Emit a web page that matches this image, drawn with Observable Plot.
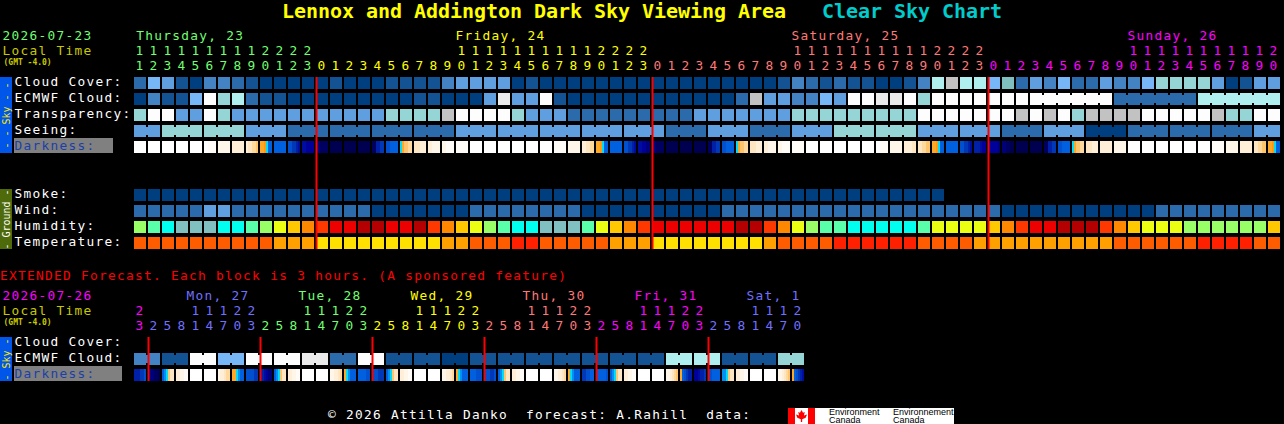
<!DOCTYPE html>
<html><head><meta charset="utf-8">
<script src="https://cdn.jsdelivr.net/npm/d3@7"></script>
<script src="https://cdn.jsdelivr.net/npm/@observablehq/plot@0.6"></script>
<style>
html,body{margin:0;padding:0;background:#000;width:1284px;height:424px;overflow:hidden}
body{position:relative;font-family:"DejaVu Sans Mono",monospace}
.abs{position:absolute;white-space:pre;line-height:1}
.body15{font-size:12.8px;letter-spacing:1.3px}
#plotTop,#plotExt{position:absolute;left:0}
#plotTop{top:0}#plotExt{top:285px}
g[font-size="8"],g[font-size="10"]{letter-spacing:0}
</style></head><body>
<div class="abs" id="title" style="left:282px;top:1px;font-size:20px;font-weight:bold;letter-spacing:-0.04px;color:#ffff00">Lennox and Addington Dark Sky Viewing Area   <span style="color:#00cccc">Clear Sky Chart</span></div>
<div id="plotTop"></div>
<div class="abs body15" style="left:0;top:270px;color:#ff0000">EXTENDED Forecast. Each block is 3 hours. (A sponsored feature)</div>
<div id="plotExt"></div>
<div class="abs body15" style="left:328px;top:409px;color:#fff">© 2026 Attilla Danko  forecast: A.Rahill  data:</div>
<div class="abs" style="left:788px;top:408px;width:27px;height:16px;background:#fff;overflow:hidden">
  <div class="abs" style="left:0;top:0;width:7px;height:16px;background:#f00"></div>
  <div class="abs" style="left:20px;top:0;width:7px;height:16px;background:#f00"></div>
  <div class="abs" style="left:8px;top:2px;width:11px;height:12px;background:#f00;clip-path:polygon(50% 0,64% 22%,80% 16%,72% 46%,100% 38%,88% 64%,56% 78%,56% 100%,44% 100%,44% 78%,12% 64%,0 38%,28% 46%,20% 16%,36% 22%)"></div>
</div>
<div class="abs" style="left:815px;top:408px;width:139px;height:16px;background:#fff;color:#000;font-family:'Liberation Sans',sans-serif;font-size:9px;line-height:8px">
  <div class="abs" style="left:14px;top:0;line-height:8px">Environment
Canada</div>
  <div class="abs" style="left:78px;top:0;line-height:8px">Environnement
Canada</div>
</div>
<script>
// ---------- colour scales ----------
const skyPalette = ["#003f7f","#135393","#2b6bab","#4383c3","#5f9fdf","#77b7f7","#95d5d5","#afefef","#c2c2c2","#eaeaea","#fdfdfd","#7fbfbf"];
const humidityPalette = {A:"#99ff66",B:"#5affaa",C:"#00ffee",D:"#80c0c0",E:"#ebff12",F:"#ffc800",G:"#ff8800",H:"#ff3800",I:"#ec0000",J:"#b40000"};
const temperaturePalette = {R:"#ff2000",O:"#ff5c00",M:"#ffa000",Y:"#ffe000"};
const darknessPalette = {a:"#ffffff",b:"#fffbf6",c:"#fff6ea",d:"#ffefd9",e:"#ffe6c2",f:"#ffd89c",g:"#ffc46c",h:"#ffa827",i:"#ff9a10",j:"#00dcff",k:"#0090f0",l:"#0060e0",m:"#0050d0",n:"#0038b8",o:"#0020a8",p:"#000ca0",q:"#00009a",r:"#00007a",s:"#000060",t:"#000050"};

// ---------- hourly forecast ----------
const cloud = [2,5,4,1,0,3,3,2,1,0, 0,0,0,0,1,0,0,0,1,1, 1,1,3,4,4,4,4,0,1,0, 0,0,0,0,0,0,0,0,0,0, 0,0,0,0,0,0,1,3,2,1, 2,1,1,0,0,1,3,7,8,7, 7,5,11,2,4,3,5,2,2,4, 3,3,5,6,6,6,6,4,0,1, 4,4];
const ecmwf = [0,3,1,1,5,10,6,7,2,1, 1,0,0,0,0,0,0,0,0,0, 1,1,0,0,0,4,9,4,4,10, 1,0,0,0,0,0,0,0,0,0, 0,0,0,2,8,4,4,3,3,5, 4,10,10,9,9,10,6,10,10,10, 10,10,10,10,10,10,10,10,10,10, 2,2,2,2,2,2,7,7,7,7, 7,7];
const transparency = [6,10,10,4,4,10,6,4,4,4, 4,4,4,4,4,4,4,4,6,6, 6,6,8,10,10,10,10,6,4,4, 4,2,2,2,2,2,2,2,2,2, 4,4,4,4,4,4,4,6,6,6, 6,6,6,6,6,6,10,10,10,10, 10,10,10,8,10,8,10,6,8,8, 8,8,10,10,10,10,10,8,6,6, 10,10];
const seeing = [4,4,6,6,6,6,6,6,4,4, 4,2,2,2,2,2,2,2,2,2, 2,2,2,4,4,4,4,4,4,4, 4,4,4,4,4,4,4,4,2,2, 2,4,4,4,2,2,2,4,4,4, 6,6,6,6,6,6,4,4,4,4, 4,4,2,2,2,4,4,4,0,0, 0,2,2,2,2,2,2,2,2,2, 4,4];
const darkness = ["a","a","a","a","a","aabbbb","c","d","deeffg","hhijll","l","mmnnop","ppqqqq","rrssss","t","t","t","ssoonn","mmllll","jhggff","eeeddd","ddcccc","ccbbbb","b","a","a","a","a","a","a","b","c","ddeeff","hhijll","l","mmnnop","ppqqrr","rrssss","t","t","t","ssoonn","mmllll","jhggff","eeeddd","ddcccc","ccbbbb","b","a","a","a","a","a","aabbbb","c","ddddee","eeffgg","hhijll","l","mmnnop","ooopqq","qqqqqr","rrsstt","t","t","ssoonn","mmllll","jhggff","eeeddd","d","c","a","a","a","a","a","a","b","c","d","eeffgg","hhijll"];
const smoke = [0,0,0,0,0,0,0,0,0,0, 0,0,0,0,0,0,0,0,0,0, 0,0,0,0,0,0,0,0,0,0, 0,0,0,0,0,0,0,0,0,0, 0,0,0,0,0,0,0,0,0,0, 0,0,0,0,0,0,0,0];
const wind = [2,2,2,2,2,4,4,2,2,2, 2,2,2,2,2,2,2,0,0,0, 0,0,0,0,2,2,2,2,2,2, 2,2,0,0,0,0,0,0,0,0, 0,0,2,2,2,2,2,2,2,2, 2,2,2,2,2,2,2,2,2,2, 2,2,0,0,0,0,0,0,0,0, 0,0,0,2,2,2,2,2,2,2, 2,2];
const humidity = [..."ABCDDDCCBA"+"EFGHIIJJII"+"JHGFEABCCD"+"DDBEFGHIII"+"IIIJJHGEAB"+"BCCCCCBEEE"+"EFGHIIJJJH"+"GFEEEAAAAA"+"AF"];
const temperature = [..."OOOOOOOOOO"+"MMMYYYYYYY"+"YYMMOOORRO"+"OOOOMMMYYY"+"YYYYYMOOOO"+"RRRRRROOOO"+"MMMMMMMMMM"+"OOOOOORRRR"+"OO"];
const hours = [11,12,13,14,15,16,17,18,19,20,21,22,23, 0,1,2,3,4,5,6,7,8,9,10,11,12,13,14,15,16,17,18,19,20,21,22,23, 0,1,2,3,4,5,6,7,8,9,10,11,12,13,14,15,16,17,18,19,20,21,22,23, 0,1,2,3,4,5,6,7,8,9,10,11,12,13,14,15,16,17,18,19,20];
const seeingGroups = [0,2,5,8,11,14,17,20,23,26,29,32,35,38,41,44,47,50,53,56,59,62,65,68,71,74,77,80];
const ecmwfGroups = [64,70,76];
const topMidnights = [13,37,61];
const topDays = [{label:"Thursday, 23",col:0.2},{label:"Friday, 24",col:23},{label:"Saturday, 25",col:47},{label:"Sunday, 26",col:71}];
const topDayEnds = [13,37,61,82];
const topDayColors = ["#70ff70","#ffff00","#ff7878","#ff00ff"];
const rows = ["Cloud Cover:","ECMWF Cloud:","Transparency:","Seeing:","Darkness:","gap1","gap2","Smoke:","Wind:","Humidity:","Temperature:"];

// ---------- extended forecast ----------
const extEcmwf = [3,3,1,1,10,10,5,5,10,10,10,10,9,9,2,2,10,10,1,1,1,1,0,0,1,1,1,1,1,1,1,1,1,1,1,1,1,1,7,7,7,7,1,1,1,1,6,6];
const extDarkness = ["ooonnm","qrrsst","lkjgee","ddccbb","a","a","cddeff","hhjkll","mmmmnn","oopqrr","lkjgee","ddccbb","a","a","ccddef","hjklll","llllmm","mmmnnn","lkjgee","ddccbb","a","a","ccddef","hjklll","lllmmm","mmmnnm","lkjgee","ddccbb","a","a","ccddef","hjklll","nnmmll","lllllm","lkjgee","ddccbb","a","a","ccdefg","hlmnoo","qqpoon","mmllll","kkjgee","ddccbb","a","a","ccdefg","hlmnop"];
const extHours = [23,2,5,8,11,14,17,20,23,2,5,8,11,14,17,20,23,2,5,8,11,14,17,20,23,2,5,8,11,14,17,20,23,2,5,8,11,14,17,20,23,2,5,8,11,14,17,20];
const extGroups = [0,2,4,6,8,10,12,14,16,18,20,22,24,26,28,30,32,34,36,38,40,42,44,46];
const extMidnights = [1,9,17,25,33,41];
const extDays = [{label:"Mon, 27",col:4},{label:"Tue, 28",col:12},{label:"Wed, 29",col:20},{label:"Thu, 30",col:28},{label:"Fri, 31",col:36},{label:"Sat, 1",col:44}];
const extDayEnds = [1,9,17,25,33,41,48];
const extDayColors = ["#ff00ff","#7070ff","#70ff70","#ffff00","#ff7878","#ff00ff","#7070ff"];
const extRows = ["Cloud Cover:","ECMWF Cloud:","Darkness:"];

// ---------- helpers ----------
const mono = "DejaVu Sans Mono";
const textSize = 12.8;
const plotStyle = {background:"transparent",letterSpacing:"1.3px"};
const toCells = (values,row,pal) => values.map((v,i)=>({i,i1:i+1,row,fill:pal[v]}));
const toBridges = (values,row,pal,starts) => {
  const out=[];
  starts.forEach((s,g)=>{
    const e = g+1<starts.length ? starts[g+1] : values.length;
    for(let i=s;i<e-1;i++) out.push({i,i1:i+1,row,fill:pal[values[i]]});
  });
  return out;
};
const strips = (values,row) => values.map((s,i)=>({i,i1:i+1,row,s:s.length===1?s.repeat(6):s}));
const darknessMarks = data => d3.range(6).map(k=>Plot.barX(data,{x1:"i",x2:"i1",y:"row",fill:d=>darknessPalette[d.s[k]],insetLeft:2*k,insetRight:2+2*(5-k)}));
const cellMarks = cells => Plot.barX(cells,{x1:"i",x2:"i1",y:"row",fill:"fill",insetRight:2});
const bridgeMarks = br => Plot.barX(br,{x1:"i",x2:"i1",y:"row",fill:"fill",insetTop:2,insetBottom:2});
const colorOf = (i,ends,cols) => cols[ends.findIndex(e=>i<e)];
const hourMarks = (hrs,ends,cols,dyT,dyO) => {
  const data = hrs.map((h,i)=>({x:i+0.5,h,c:colorOf(i,ends,cols)}));
  return [
    Plot.text(data.filter(d=>d.h>=10),{x:"x",text:d=>String(Math.floor(d.h/10)),fill:"c",frameAnchor:"top",lineAnchor:"middle",dy:dyT,dx:-1.5,fontSize:textSize,fontFamily:mono}),
    Plot.text(data,{x:"x",text:d=>String(d.h%10),fill:"c",frameAnchor:"top",lineAnchor:"middle",dy:dyO,dx:-1.5,fontSize:textSize,fontFamily:mono})
  ];
};
const leftText = (t,fill,dy,dx,size,weight) => Plot.text([t],{text:d=>d,fill:fill,frameAnchor:"top-left",lineAnchor:"middle",textAnchor:"start",dx:dx,dy:dy,fontSize:size,fontWeight:weight||"normal",fontFamily:mono});
const rowLabels = (list) => Plot.text(list.filter(r=>!r.startsWith("gap")&&r!=="Darkness:"),{y:d=>d,text:d=>d,fill:"#fff",frameAnchor:"left",textAnchor:"start",lineAnchor:"middle",dx:-120,dy:-2,fontSize:textSize,fontFamily:mono});
const darkLabel = (bgRight) => [
  Plot.barX(["Darkness:"],{y:d=>d,x1:0,x2:0,fill:"#808080",insetLeft:-120,insetRight:bgRight,insetTop:-3,insetBottom:0}),
  Plot.text(["Darkness:"],{y:d=>d,text:d=>d,fill:"#1c3fa8",frameAnchor:"left",textAnchor:"start",lineAnchor:"middle",dx:-120,dy:-2,fontSize:textSize,fontFamily:mono})
];
const sideLabel = (text,fill,dy,size) => Plot.text([text],{text:d=>d,fill,frameAnchor:"top-left",rotate:-90,textAnchor:"middle",lineAnchor:"middle",dx:-128,dy,fontSize:size,fontFamily:mono});
const sideBar = (ys,fill) => [
  Plot.barX(ys.slice(0,-1),{y:d=>d,x1:0,x2:0,fill,insetLeft:-134,insetRight:122,insetBottom:-4}),
  Plot.barX(ys.slice(-1),{y:d=>d,x1:0,x2:0,fill,insetLeft:-134,insetRight:122})
];

// ---------- top chart ----------
const topCells = [
  ...toCells(cloud,"Cloud Cover:",skyPalette),
  ...toCells(ecmwf,"ECMWF Cloud:",skyPalette),
  ...toCells(transparency,"Transparency:",skyPalette),
  ...toCells(seeing,"Seeing:",skyPalette),
  ...toCells(smoke,"Smoke:",skyPalette),
  ...toCells(wind,"Wind:",skyPalette),
  ...toCells(humidity,"Humidity:",humidityPalette),
  ...toCells(temperature,"Temperature:",temperaturePalette)
];
const topBridges = [...toBridges(seeing,"Seeing:",skyPalette,seeingGroups),...toBridges(ecmwf,"ECMWF Cloud:",skyPalette,ecmwfGroups)];

const topChart = Plot.plot({
  width:1284,height:270,marginTop:77,marginBottom:21,marginLeft:134,marginRight:2,
  style:plotStyle,
  x:{type:"linear",domain:[0,82],range:[134,1282],axis:null},
  y:{type:"band",domain:rows,paddingInner:0.25,paddingOuter:0,axis:null},
  color:{type:"identity"},
  marks:[
    ...sideBar(rows.slice(0,5),"#0056e8"),
    ...sideBar(rows.slice(7),"#4f6a0a"),
    sideLabel("- - Sky - -","#ffe800",38,10),
    sideLabel("- Ground -","#fff",142,10),
    ...darkLabel(21),
    bridgeMarks(topBridges),
    cellMarks(topCells),
    ...darknessMarks(strips(darkness,"Darkness:")),
    rowLabels(rows),
    leftText("2026-07-23","#70ff70",-42,-132,textSize),
    leftText("Local Time","#c8c800",-27,-132,textSize),
    leftText("(GMT -4.0)","#c8c800",-15,-131,8,"bold"),
    Plot.text(topDays,{x:"col",text:"label",fill:(d,i)=>topDayColors[i],frameAnchor:"top",lineAnchor:"middle",textAnchor:"start",dy:-42,dx:-1,fontSize:textSize,fontFamily:mono}),
    ...hourMarks(hours,topDayEnds,topDayColors,-27,-12),
    Plot.ruleX(topMidnights,{stroke:"#ff0000",strokeWidth:2})
  ]
});
document.getElementById("plotTop").append(topChart);

// ---------- extended chart ----------
const extChart = Plot.plot({
  width:1284,height:100,marginTop:52,marginBottom:4,marginLeft:134,marginRight:478,
  style:plotStyle,
  x:{type:"linear",domain:[0,48],range:[134,806],axis:null},
  y:{type:"band",domain:extRows,paddingInner:0.25,paddingOuter:0,axis:null},
  color:{type:"identity"},
  marks:[
    ...sideBar(extRows,"#0056e8"),
    sideLabel("- Sky -","#ffe800",22,10),
    ...darkLabel(12),
    bridgeMarks(toBridges(extEcmwf,"ECMWF Cloud:",skyPalette,extGroups)),
    cellMarks(toCells(extEcmwf,"ECMWF Cloud:",skyPalette)),
    ...darknessMarks(strips(extDarkness,"Darkness:")),
    rowLabels(extRows),
    leftText("2026-07-26","#ff00ff",-42,-132,textSize),
    leftText("Local Time","#c8c800",-27,-132,textSize),
    leftText("(GMT -4.0)","#c8c800",-15,-131,8,"bold"),
    Plot.text(extDays,{x:"col",text:"label",fill:(d,i)=>extDayColors[i+1],frameAnchor:"top",lineAnchor:"middle",textAnchor:"start",dy:-42,dx:-4,fontSize:textSize,fontFamily:mono}),
    ...hourMarks(extHours,extDayEnds,extDayColors,-27,-12),
    Plot.ruleX(extMidnights,{stroke:"#ff0000",strokeWidth:2})
  ]
});
document.getElementById("plotExt").append(extChart);
</script>
</body></html>
